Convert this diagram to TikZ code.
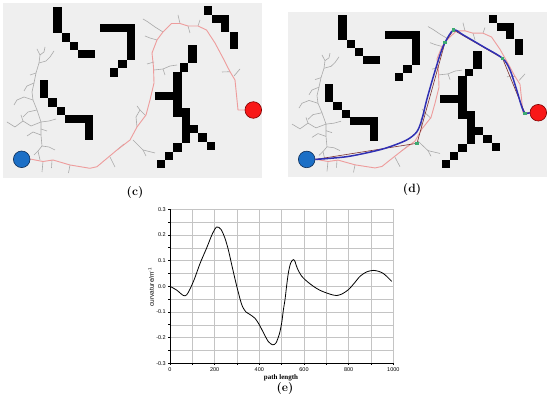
\documentclass[tikz,border=0pt]{standalone}
\usepackage{fontspec}
\newfontfamily\plotsans{Liberation Sans}
\newfontfamily\plotserif{Liberation Serif}
\definecolor{mapBg}{HTML}{EFEFEF}
\definecolor{treeGray}{HTML}{A9A9A9}
\definecolor{routePink}{HTML}{EE9C9C}
\definecolor{startBlue}{HTML}{1C6FC6}
\definecolor{startEdge}{HTML}{0B2B55}
\definecolor{goalRed}{HTML}{F81818}
\definecolor{goalEdge}{HTML}{800000}
\definecolor{smoothBlue}{HTML}{3030B4}
\definecolor{ctrlGreen}{HTML}{3DAA72}
\definecolor{ctrlBrown}{HTML}{7A2E2E}
\definecolor{gridGray}{HTML}{C4C4C4}
\usetikzlibrary{shapes, arrows.meta, positioning}

\begin{document}
\begin{tikzpicture}[
        x=1pt, y=-1pt,
        obstacle/.style={fill=black},
        branch/.style={draw=treeGray, line width=0.6pt, line join=round},
        route/.style={draw=routePink, line width=0.9pt, line join=round},
        startdot/.style={circle, draw=startEdge, fill=startBlue, line width=0.6pt, minimum size=16.6pt, inner sep=0pt},
        goaldot/.style={circle, draw=goalEdge, fill=goalRed, line width=0.6pt, minimum size=16.6pt, inner sep=0pt},
        smoothpath/.style={draw=smoothBlue, line width=1.5pt, line join=round},
        ctrlpoly/.style={draw=ctrlBrown, line width=0.6pt},
        ctrlpt/.style={rectangle, fill=ctrlGreen, minimum size=3.2pt, inner sep=0pt},
        gridline/.style={draw=gridGray, line width=0.4pt},
        axisline/.style={draw=black, line width=0.6pt},
        ticklab/.style={font=\fontsize{5.5}{6}\selectfont\plotsans, inner sep=1pt},
        caption/.style={font=\fontsize{12}{14}\selectfont\bfseries, inner sep=0pt}
      ]
        \useasboundingbox (0,0) rectangle (550,403);

        \foreach \pan/\dx/\dy/\sy in {c/0/0/1, d/285/8.57/0.947} {
          \begin{scope}[shift={(\dx,\dy)}, yscale=\sy]
            \fill[mapBg] (3.3,3.3) rectangle (261.7,178.3);
            \foreach \ox/\oy/\ow/\oh in {53.3/7.3/8.4/26, 61.7/33.3/8.4/8.4, 70/41.7/8.4/8.4, 78.3/50/16.7/8.4,
                100/24/35/8.4, 126.6/32.3/8.4/27.7, 118.2/60/8.4/8.4, 109.8/68.4/8.4/8.4,
                203.5/6.5/8.4/8.4, 212/15/17/8.4, 220.5/23.3/8.4/8.4, 230/32/8.4/17,
                188.3/45/8.4/18.3, 180/63.3/8.4/8.4, 173.3/71.7/8.4/45, 155/91.7/18.3/8.4,
                181.7/108.3/8.4/35, 190/125/8.4/8.4, 198.4/133.3/8.4/8.4, 206.8/141.7/8.4/8.4,
                173.3/143.3/8.4/8.4, 165/151.7/8.4/8.4, 156.6/160/8.4/8.4,
                40/80/8.4/18.3, 48.4/98.3/8.4/8.4, 56.8/106.7/8.4/8.4, 65.2/115/28/8.4, 84.8/123.4/8.4/16.6}
              \fill[obstacle] (\ox,\oy) rectangle ++(\ow,\oh);

            \draw[branch] (40,160) -- (38,151) -- (42,146) -- (41,135) -- (41,122) -- (37,110) -- (33,100) -- (32,92) -- (34,83) -- (36,73) -- (39,63) -- (40,55) -- (37,49);
            \draw[branch] (39,63) -- (46,61) -- (50,57) -- (54,51);
            \draw[branch] (40,55) -- (44,52) -- (45,47);
            \draw[branch] (36,73) -- (30,75);
            \draw[branch] (34,83) -- (27,86) -- (24,91);
            \draw[branch] (33,100) -- (24,97) -- (17,100) -- (14,105);
            \draw[branch] (37,110) -- (28,112) -- (23,117);
            \draw[branch] (41,122) -- (31,126) -- (23,121) -- (15,127) -- (7,122);
            \draw[branch] (23,121) -- (21,115);
            \draw[branch] (41,135) -- (33,132) -- (27,136);
            \draw[branch] (41,122) -- (49,121) -- (56,119);
            \draw[branch] (41,129) -- (47,131);
            \draw[branch] (42,146) -- (49,147) -- (55,150);
            \draw[branch] (38,151) -- (34,155);
            \draw[branch] (43,161.5) -- (42,172);
            \draw[branch] (52,160) -- (51.5,168);
            \draw[branch] (70,165) -- (68.5,173);
            \draw[branch] (110,157) -- (115,167);
            \draw[branch] (117,150) -- (124,144);
            \draw[branch] (133,140) -- (143,150) -- (155,153);
            \draw[branch] (143,150) -- (146,156);
            \draw[branch] (137,127) -- (136,117) -- (140,110) -- (137,106);
            \draw[branch] (140,110) -- (146,116);
            \draw[branch] (163,32) -- (155,27) -- (148,22) -- (143,19);
            \draw[branch] (157,40) -- (150,38) -- (145,36);
            \draw[branch] (154,62) -- (147,64);
            \draw[branch] (154,70) -- (163,69) -- (170,66) -- (177,65);
            \draw[branch] (163,69) -- (165,75);
            \draw[branch] (178,15) -- (180,23.5);
            \draw[branch] (188,26) -- (190,33);
            \draw[branch] (198,26) -- (200,20);
            \draw[branch] (230,71.7) -- (222,72);
            \draw[branch] (234,76) -- (240,69);

            \draw[route] (30,159) -- (43,161.5) -- (53,160) -- (70,165) -- (90,168.3) -- (97,166.7) -- (107,158.3) -- (117,150) -- (130,140) -- (137,127) -- (146,115) -- (150,100) -- (154,83) -- (153.5,67) -- (152,53) -- (157,40) -- (163,32) -- (171.5,23.5) -- (180,23.5) -- (188,26) -- (198,26) -- (206.5,30) -- (215,43) -- (223,58) -- (230,71.7) -- (235,80) -- (237,100) -- (238,110) -- (246,110);

            \node[startdot] (start\pan) at (21.7,159.3) {};
            \node[goaldot] (goal\pan) at (253.3,110) {};
          \end{scope}
        }

        \coordinate (k1) at (417,143.3);
        \coordinate (k2) at (445,42.5);
        \coordinate (k3) at (453.5,30);
        \coordinate (k4) at (502.5,58.3);
        \coordinate (k5) at (525,113.3);
        \draw[ctrlpoly] (startd.east) -- (k1) -- (k2) -- (k3) -- (k4) -- (k5) -- (goald.west);
        \draw[smoothpath] plot[smooth, tension=0.5] coordinates {(startd.east) (346.7,156.7) (375,151) (390,146.7) (406.7,140) (416.7,132) (421.7,120) (426.7,100) (433.3,76.7) (440,55) (k2) (k3) (463.3,35) (483.3,46.7) (k4) (510,70) (516.7,90) (521.7,106.7) (k5) (goald.west)};
        \foreach \k in {1,...,5}
          \node[ctrlpt] (g\k) at (k\k) {};

        \node[caption] (capc) at (135,193) {(c)};
        \node[caption] (capd) at (412,190) {(d)};

        \begin{scope}[shift={(170,286.3)}, xscale=0.22333, yscale=-256.67]
          \foreach \gx in {100,200,...,1000}
            \draw[gridline] (\gx,-0.3) -- (\gx,0.3);
          \foreach \gy in {-5,...,6}
            \draw[gridline] (0,{\gy*0.05}) -- (1000,{\gy*0.05});
          \draw[axisline] (0,0.3) -- (0,-0.3) -- (1000,-0.3);
          \draw[black, line width=0.8pt] plot[smooth, tension=0.5] coordinates {(0,0) (30,-0.015) (60,-0.036) (75,-0.033) (90,-0.01) (110,0.03) (135,0.09) (164,0.149) (190,0.205) (209,0.231) (228,0.222) (245,0.19) (261,0.143) (280,0.07) (299,0.0) (321,-0.071) (340,-0.1) (358,-0.11) (381,-0.125) (400,-0.15) (418,-0.18) (440,-0.215) (460,-0.228) (475,-0.22) (490,-0.185) (500,-0.143) (508,-0.09) (515,-0.052) (522,0.0) (530,0.052) (540,0.09) (552,0.104) (560,0.096) (570,0.07) (590,0.039) (615,0.018) (642,0.0) (670,-0.015) (701,-0.026) (730,-0.034) (746,-0.036) (770,-0.03) (799,-0.013) (825,0.012) (851,0.039) (880,0.056) (910,0.062) (935,0.058) (955,0.05) (975,0.035) (993,0.019)};
        \end{scope}

        \foreach \L in {0,100,...,1000}
          \draw[axisline] ({170+0.22333*\L},363.3) -- ++(0,2);
        \foreach \k in {-6,...,6}
          \draw[axisline] (170,{286.3-12.833*\k}) -- ++(-2,0);
        \foreach \v [count=\n] in {0.3,0.2,0.1,0.0,-0.1,-0.2,-0.3}
          \node[ticklab, anchor=east] (ytick\n) at (167,{286.3-256.67*\v}) {\v};
        \foreach \L [count=\n] in {0,200,400,600,800,1000}
          \node[ticklab, anchor=north] (xtick\n) at ({170+0.22333*\L},366) {\L};
        \node[font=\fontsize{6.5}{7}\selectfont\plotsans, rotate=90] (ylabel) at (151,287) {curvature/m\textsuperscript{-1}};
        \node[font=\fontsize{7}{8}\selectfont\plotserif\bfseries, inner sep=0pt] (xlabel) at (281,377.5) {path length};
        \node[caption] (cape) at (285,389) {(e)};
      \end{tikzpicture}
\end{document}
